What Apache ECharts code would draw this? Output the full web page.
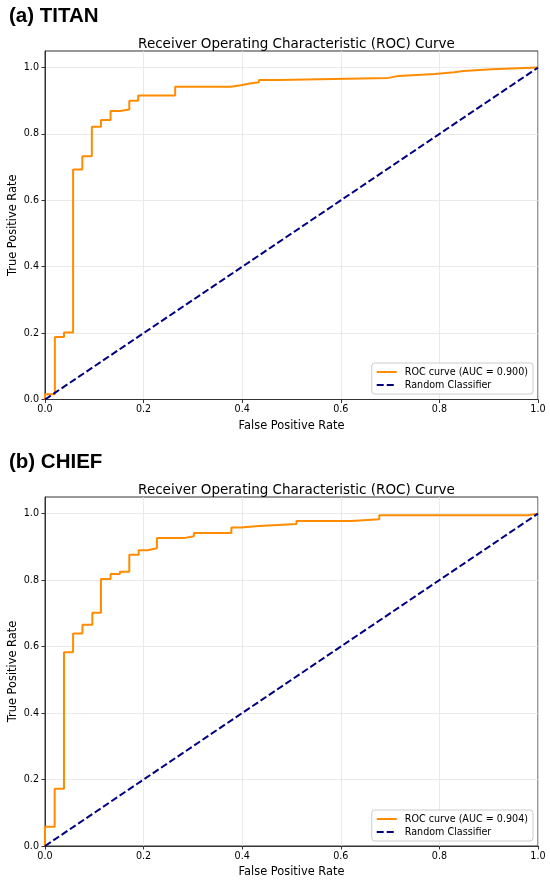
<!DOCTYPE html>
<html>
<head>
<meta charset="utf-8">
<script src="https://cdn.jsdelivr.net/npm/echarts@6/dist/echarts.min.js"></script>
<style>
  html, body { margin: 0; padding: 0; background: #fff; }
  #chart { width: 550px; height: 880px; }
</style>
</head>
<body>
<div id="chart"></div>
<script>
// ROC points (corners of the step curve)
const titanFpr = [0, 0, 0.020, 0.0385, 0.057, 0.0757, 0.095, 0.1135, 0.133, 0.152, 0.171, 0.189, 0.264, 0.377, 0.397, 0.4155, 0.434, 0.473, 0.697, 0.717, 0.791, 0.830, 0.849, 0.906, 1.0];
const titanTpr = [0, 0.016, 0.188, 0.2015, 0.693, 0.733, 0.822, 0.842, 0.869, 0.874, 0.900, 0.916, 0.942, 0.947, 0.952, 0.956, 0.963, 0.969, 0.975, 0.981, 0.986, 0.990, 0.995, 1.0, 1.0];

const chiefFpr = [0, 0, 0.0196, 0.0385, 0.057, 0.076, 0.096, 0.1135, 0.133, 0.152, 0.171, 0.190, 0.208, 0.227, 0.284, 0.302, 0.378, 0.397, 0.434, 0.510, 0.622, 0.678, 0.980, 1.0];
const chiefTpr = [0, 0.058, 0.172, 0.583, 0.639, 0.666, 0.702, 0.803, 0.818, 0.825, 0.876, 0.890, 0.896, 0.927, 0.932, 0.942, 0.958, 0.963, 0.969, 0.978, 0.983, 0.995, 1.0, 1.0];

// random classifier diagonal
const diagX = [0, 1];
const diagY = [0, 1];

const tickValues = [0, 0.2, 0.4, 0.6, 0.8, 1.0];

const titanName = 'ROC curve (AUC = 0.900)';
const chiefName = 'ROC curve (AUC = 0.904)';
const randomName = 'Random Classifier';

const FONT = 'DejaVu Sans';
const zip = (xs, ys) => xs.map((x, i) => [x, ys[i]]);

const chart = echarts.init(document.getElementById('chart'), null, { renderer: 'canvas' });

function xAxisFor(idx) {
  return {
    type: 'value', gridIndex: idx, min: 0, max: 1, interval: 0.2,
    name: 'False Positive Rate', nameLocation: 'middle', nameGap: 21, nameMoveOverlap: false,
    nameTextStyle: { fontFamily: FONT, fontSize: 11.4, color: '#000' },
    axisLine: { show: true, onZero: false, lineStyle: { color: '#333', width: 1 } },
    axisTick: { show: true, length: 3.5, lineStyle: { color: '#333', width: 1 } },
    axisLabel: { fontFamily: FONT, fontSize: 9.6, color: '#000', margin: 5,
                 formatter: v => v.toFixed(1) },
    splitLine: { show: true, lineStyle: { color: '#e4e4e4', width: 0.8 } }
  };
}

function yAxisFor(idx) {
  return {
    type: 'value', gridIndex: idx, min: 0, max: 1.05, interval: 0.2,
    name: 'True Positive Rate', nameLocation: 'middle', nameGap: 26, nameMoveOverlap: false,
    nameTextStyle: { fontFamily: FONT, fontSize: 11.4, color: '#000' },
    axisLine: { show: true, onZero: false, lineStyle: { color: '#333', width: 1 } },
    axisTick: { show: true, length: 3.5, customValues: tickValues,
                lineStyle: { color: '#333', width: 1 } },
    axisLabel: { fontFamily: FONT, fontSize: 9.6, color: '#000', margin: 6,
                 customValues: tickValues, formatter: v => v.toFixed(1) },
    splitLine: { show: true, lineStyle: { color: '#e4e4e4', width: 0.8 } }
  };
}

function legendFor(name, top) {
  return {
    data: [name, randomName], orient: 'vertical', right: 17, top: top,
    padding: [4, 5, 4, 4], itemWidth: 20, itemHeight: 10, itemGap: 3,
    backgroundColor: 'rgba(255,255,255,0.8)', borderColor: '#cccccc', borderWidth: 1, borderRadius: 3,
    itemStyle: { color: 'transparent', borderWidth: 0, opacity: 0 },
    textStyle: { fontFamily: FONT, fontSize: 9.6, color: '#000', padding: [0, 0, 0, 3] }
  };
}

chart.setOption({
  animation: false,
  backgroundColor: '#fff',
  title: [
    { text: '(a) TITAN', left: 4, top: 1,
      textStyle: { fontFamily: 'Liberation Sans', fontWeight: 'bold', fontSize: 20.5, color: '#000' } },
    { text: 'Receiver Operating Characteristic (ROC) Curve', left: 291.5, top: 32, textAlign: 'center',
      textStyle: { fontFamily: FONT, fontWeight: 'normal', fontSize: 13.5, color: '#000' } },
    { text: '(b) CHIEF', left: 4, top: 447,
      textStyle: { fontFamily: 'Liberation Sans', fontWeight: 'bold', fontSize: 20.5, color: '#000' } },
    { text: 'Receiver Operating Characteristic (ROC) Curve', left: 291.5, top: 478, textAlign: 'center',
      textStyle: { fontFamily: FONT, fontWeight: 'normal', fontSize: 13.5, color: '#000' } }
  ],
  grid: [
    { left: 45, top: 51, width: 493, height: 348.5, containLabel: false, outerBoundsMode: 'none',
      show: true, borderColor: '#333', borderWidth: 1, backgroundColor: 'transparent' },
    { left: 45, top: 497, width: 493, height: 349, containLabel: false, outerBoundsMode: 'none',
      show: true, borderColor: '#333', borderWidth: 1, backgroundColor: 'transparent' }
  ],
  xAxis: [xAxisFor(0), xAxisFor(1)],
  yAxis: [yAxisFor(0), yAxisFor(1)],
  legend: [legendFor(titanName, 363), legendFor(chiefName, 810)],
  series: [
    { name: titanName, type: 'line', xAxisIndex: 0, yAxisIndex: 0, step: 'end',
      data: zip(titanFpr, titanTpr), symbol: 'none', showSymbol: false,
      lineStyle: { color: '#ff8c00', width: 2 }, itemStyle: { color: '#ff8c00' }, z: 2 },
    { name: randomName, type: 'line', xAxisIndex: 0, yAxisIndex: 0,
      data: zip(diagX, diagY), symbol: 'none', showSymbol: false,
      lineStyle: { color: '#000080', width: 2, type: [7, 3] }, itemStyle: { color: '#000080' }, z: 3 },
    { name: chiefName, type: 'line', xAxisIndex: 1, yAxisIndex: 1, step: 'end',
      data: zip(chiefFpr, chiefTpr), symbol: 'none', showSymbol: false,
      lineStyle: { color: '#ff8c00', width: 2 }, itemStyle: { color: '#ff8c00' }, z: 2 },
    { name: randomName, type: 'line', xAxisIndex: 1, yAxisIndex: 1,
      data: zip(diagX, diagY), symbol: 'none', showSymbol: false,
      lineStyle: { color: '#000080', width: 2, type: [7, 3] }, itemStyle: { color: '#000080' }, z: 3 }
  ]
});
</script>
</body>
</html>
